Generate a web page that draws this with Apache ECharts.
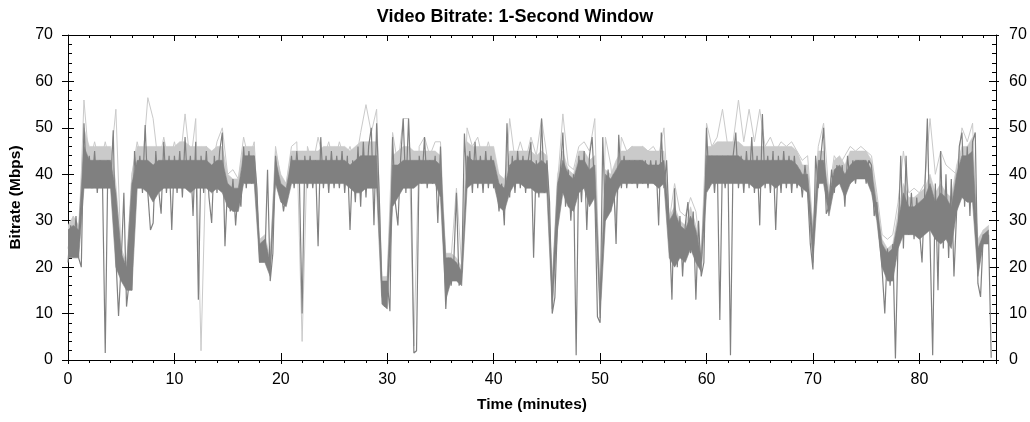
<!DOCTYPE html>
<html>
<head>
<meta charset="utf-8">
<script src="https://cdn.jsdelivr.net/npm/echarts@6/dist/echarts.min.js"></script>
<style>
html,body{margin:0;padding:0;background:#fff;}
#chart{width:1030px;height:422px;}
</style>
</head>
<body>
<div id="chart"></div>
<script>
// Sampling steps (minutes) of the read-off traces
const sampleStepMin = 0.25;   // bitrateMbps
const binStepMin = 0.5;       // peakMbps, coreLowMbps, coreHighMbps, fringeHighMbps

// Dark 1-second trace (spikes and dips), Mbps, every 0.25 minute from t = 0
const bitrateMbps = [
21,29,23,31,22,20,51,38,44,37,45,36,43,37,1.5,43,37,49.5,22,9.5,
21,36,11.5,17,15,45,37,44,36,50.6,36,28,29.5,45,37,31.5,47,36,44,28,
44,36,45,35,48,37,44,31,47,13,44,36,45,35,29.5,44,36,45,49,24.5,
38,32,39,29,37,33,46,37,45,38,44,37,21,24.5,21.5,41,17,23,44,38,
37,32,36,38,44,37,45,38,10,44,37,44,37,43,24.5,48,37,44,36,45,
37,44,37,45,36,44,28,43,34,46,33,47,35,46,50,29,51,35,14,11.5,
17,10.5,48,34,29,43,52,36,52,37,1.5,2,44,38,48,37,43,38,44,29.5,
46,28,11,22,16,21,36,16,19,48.8,37,45,36,47,37,44,36,45,37,44,
37,39,32,38,29,51,35,44,36,45,37,44,36,43,47,22,43,35,52,36,
43,34,10,13.5,30,40,49,33,41,30,40,1,44,34,45,28,44,48,36,9.3,
8,48,30,41,32,40,25,48.5,37,44,37,43,38,43,37,43,38,43,37,43,
38,43,29,49,37,43,28,13,37,20,31,18,29,34,23,32,13,30,18,21,
50,37,44,36,44,8.6,44,37,44,1,44,49,37,44,36,45,37,48,36,44,
29,53,37,44,36,45,28,44,36,45,37,44,36,44,37,41,35,42,36,25,
19.5,44,37,44,50,31.5,33,41,36,42,38,42,33,44,38,43,38,43,39,43,
38,43,42,31,34,26,19.5,10,24,16,25,0.3,26,44,24,44,27,36,26,35,
28,21,36,52,26,1,38,15,45,24,40,22,39,18,32,46,49,33,46,31,
47,49,16.5,13.6,27,25,27,0.5
];

// Light-grey peak trace, Mbps, every 0.5 minute from t = 0
const peakMbps = [
24,31,24,56,42,47,42,47,42,54,22,17,40,47,42,56.5,52,42,48,42,
47,42,53,42,52,2,46,41,47,50,40,41,39,48,43,47,23,25,20,46,
39,38,46,47,4,46,42,48,43,47,42,47,43,46,42,49,55,49,54,17,
18,49,42,52,52,3,46,48,44,47,47,20,22,37,20,50,46,48,43,47,
42,40,35,52,43,47,43,48,44,52,44,14,38,53,42,41,46,47,45,52,
10,48,42,30,48,45,46,45,46,45,46,44,50,30,38,32,31,35,32,22,
51,46,48,54,46,47,56,47,54,47,54,46,48,45,47,46,47,45,43,44,
28,46,51,36,44,42,44,46,45,46,45,44,36,27,26,27,34,45,36,37,
36,38,52,40,45,42,41,40,50,47,51,20,28,28
];

// Dense dark core of the trace: lower / upper edge, Mbps, every 0.5 minute
const coreLowMbps = [
22,22,22,37,37,37,37,37,37,20,17,15,15,37,37,36,34,36,37,37,
37,37,37,36,37,37,37,36,37,36,33,32,32,38,38,38,21,21,18,38,
34,33,38,38,38,38,38,38,38,38,38,38,38,37,36,36,37,37,37,12,
11,33,35,37,37,37,38,38,38,38,35,13,17,17,16,37,38,38,38,38,
38,33,32,36,38,38,37,37,36,36,36,11,28,36,33,32,36,37,33,35,
9,30,32,36,38,38,38,38,38,38,38,37,38,22,20,22,21,24,21,19,
36,38,38,38,38,38,38,38,38,37,37,38,38,37,38,38,38,38,37,36,
21,38,38,31,37,38,35,38,39,39,39,36,30,20,17,17,24,27,27,27,
26,27,28,26,25,26,24,32,35,34,34,18,25,25
];
const coreHighMbps = [
28,29,28,46,43,43,43,43,43,36,23,20,38,43,43,43,42,43,43,43,
43,43,43,43,43,43,43,42,43,43,38,37,37,44,44,44,25,26,21,43,
38,37,43,43,43,43,43,43,43,43,43,43,43,42,43,44,44,44,44,17,
17,42,42,43,43,43,43,43,43,43,42,22,22,21,19,44,43,43,43,43,
43,38,37,42,43,43,43,43,42,43,42,16,38,43,40,39,43,43,41,42,
13,40,39,41,43,43,43,43,43,42,42,42,43,30,32,29,28,31,28,22,
44,44,44,44,44,44,44,43,43,43,43,43,43,43,43,43,43,42,40,40,
27,43,43,35,41,42,40,42,43,43,43,41,33,25,23,24,30,36,33,33,
34,35,38,34,36,35,33,40,44,44,45,24,27,28
];
// Top of the light-grey fringe above the core, Mbps, every 0.5 minute
const fringeHighMbps = [
29,31,29,50,46,46,46,46,46,38,24,21,40,46,46,46,46,46,46,46,
46,47,47,46,46,46,46,45,46,46,40,39,39,46,46,46,26,27,22,45,
40,38,45,45,45,45,45,45,46,46,46,46,46,45,46,47,47,47,47,18,
18,44,45,46,46,45,45,45,45,45,44,23,23,22,20,47,46,46,46,46,
46,40,39,45,45,45,45,45,44,45,44,17,40,45,41,40,45,45,43,44,
14,41,40,43,45,45,46,46,46,45,45,45,45,31,33,30,29,33,29,23,
46,46,47,47,47,47,47,46,46,46,46,46,46,46,46,46,46,45,42,42,
28,45,45,36,43,44,42,45,45,45,45,43,35,26,24,25,32,38,35,35,
36,37,40,36,38,36,35,42,46,46,48,26,28,29
];

const xMin = 0, xMax = 87.2, yMin = 0, yMax = 70;
const xMajor = 10, xMinor = 2, yMajor = 10, yMinor = 2;

const darkData = bitrateMbps.map((v, i) => [i * sampleStepMin, v]);
const peakData = peakMbps.map((v, i) => [i * binStepMin, v]);

const FONT = 'Liberation Sans, Arial, sans-serif';
const black = '#000';
const DARK = '#808080';
const LIGHT = '#cacaca';

// polygon between two edge arrays, placed through the cartesian coordinate system
function bandSeries(lowArr, highArr, color, z) {
  return {
    type: 'custom', coordinateSystem: 'cartesian2d', xAxisIndex: 0, yAxisIndex: 0,
    data: [[0, lowArr[0]]], encode: { x: 0, y: 1 }, silent: true, z: z, clip: true,
    renderItem: function (params, api) {
      const pts = [];
      for (let j = 0; j < highArr.length; j++) pts.push(api.coord([j * binStepMin, highArr[j]]));
      for (let j = lowArr.length - 1; j >= 0; j--) pts.push(api.coord([j * binStepMin, lowArr[j]]));
      return { type: 'polygon', shape: { points: pts }, style: { fill: color, stroke: color, lineWidth: 0.6 } };
    }
  };
}

function xAx(opts) {
  return Object.assign({
    type: 'value', min: xMin, max: xMax, interval: xMajor,
    axisLine: { show: false, onZero: false, lineStyle: { color: black, width: 1 } },
    axisTick: { show: true, inside: true, length: 6, lineStyle: { color: black, width: 1 } },
    axisLabel: { show: false },
    splitLine: { show: false }
  }, opts);
}
function yAx(opts) {
  return Object.assign({
    type: 'value', min: yMin, max: yMax, interval: yMajor,
    axisLine: { show: false, onZero: false, lineStyle: { color: black, width: 1 } },
    axisTick: { show: true, inside: true, length: 6, lineStyle: { color: black, width: 1 } },
    axisLabel: { show: false },
    splitLine: { show: false }
  }, opts);
}

const chart = echarts.init(document.getElementById('chart'), null, { renderer: 'canvas' });
chart.setOption({
  animation: false,
  backgroundColor: '#fff',
  title: {
    text: 'Video Bitrate: 1-Second Window',
    left: 'center', top: 3,
    textStyle: { fontFamily: FONT, fontSize: 18, fontWeight: 'bold', color: black }
  },
  grid: { left: 67, right: 34, top: 35, bottom: 62, containLabel: false },
  xAxis: [
    xAx({
      position: 'bottom',
      axisLine: { show: true, onZero: false, lineStyle: { color: black, width: 1 } },
      axisTick: { show: true, inside: true, length: 7, lineStyle: { color: black } },
      axisLabel: { show: true, showMaxLabel: false, fontFamily: FONT, fontSize: 16, color: black, margin: 12 },
      name: 'Time (minutes)', nameLocation: 'middle', nameGap: 37,
      nameTextStyle: { fontFamily: FONT, fontSize: 15.5, fontWeight: 'bold', color: black }
    }),
    xAx({ position: 'bottom', axisTick: { show: true, inside: false, length: 4, lineStyle: { color: black } } }),
    xAx({ position: 'bottom', interval: xMinor, axisTick: { show: true, inside: false, length: 3, lineStyle: { color: black } } }),
    xAx({ position: 'top', axisLine: { show: true, onZero: false, lineStyle: { color: black, width: 1 } },
          axisTick: { show: true, inside: true, length: 6, lineStyle: { color: black } } }),
    xAx({ position: 'top', interval: xMinor, axisTick: { show: true, inside: true, length: 3, lineStyle: { color: black } } })
  ],
  yAxis: [
    yAx({
      position: 'left',
      axisLine: { show: true, onZero: false, lineStyle: { color: black, width: 1 } },
      axisTick: { show: true, inside: false, length: 6, lineStyle: { color: black } },
      axisLabel: { show: true, fontFamily: FONT, fontSize: 16, color: black, margin: 15 },
      name: 'Bitrate (Mbps)', nameLocation: 'middle', nameGap: 44, nameRotate: 90,
      nameTextStyle: { fontFamily: FONT, fontSize: 15.5, fontWeight: 'bold', color: black }
    }),
    yAx({ position: 'left', axisTick: { show: true, inside: true, length: 6, lineStyle: { color: black } } }),
    yAx({ position: 'left', interval: yMinor, axisTick: { show: true, inside: true, length: 4, lineStyle: { color: black } } }),
    yAx({
      position: 'right',
      axisLine: { show: true, onZero: false, lineStyle: { color: black, width: 1 } },
      axisTick: { show: true, inside: true, length: 7, lineStyle: { color: black } },
      axisLabel: { show: true, fontFamily: FONT, fontSize: 16, color: black, margin: 13 }
    }),
    yAx({ position: 'right', axisTick: { show: true, inside: false, length: 3, lineStyle: { color: black } } }),
    yAx({ position: 'right', interval: yMinor, axisTick: { show: true, inside: true, length: 4, lineStyle: { color: black } } })
  ],
  series: [
    bandSeries(coreHighMbps, fringeHighMbps, LIGHT, 1),
    {
      name: 'Peak', type: 'line', xAxisIndex: 0, yAxisIndex: 0,
      data: peakData, showSymbol: false, symbol: 'none',
      lineStyle: { color: LIGHT, width: 1, join: 'bevel' }, z: 2, silent: true
    },
    bandSeries(coreLowMbps, coreHighMbps, DARK, 3),
    {
      name: 'Bitrate', type: 'line', xAxisIndex: 0, yAxisIndex: 0,
      data: darkData, showSymbol: false, symbol: 'none',
      lineStyle: { color: DARK, width: 1.2, join: 'bevel' }, z: 4, silent: true
    }
  ]
});
</script>
</body>
</html>
